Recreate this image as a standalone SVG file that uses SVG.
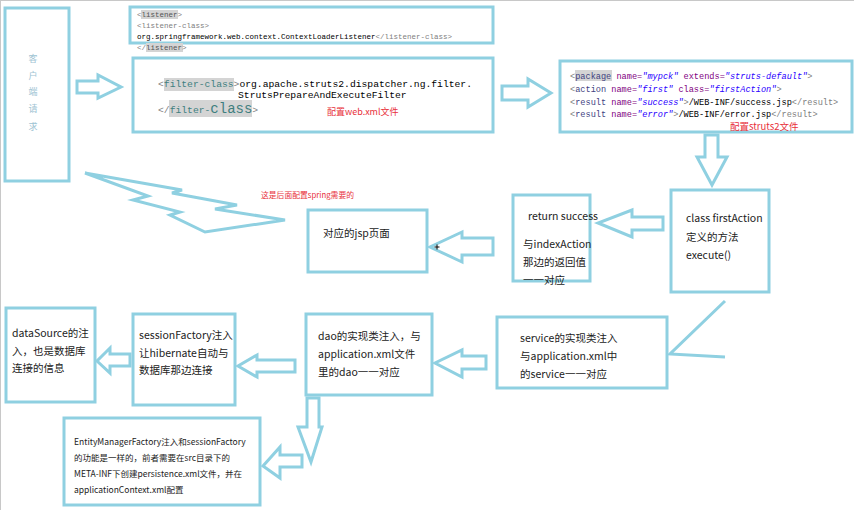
<svg xmlns="http://www.w3.org/2000/svg" width="854" height="510" viewBox="0 0 854 510">
<style>
.box{fill:#fff;stroke:#8fd0e1;stroke-width:3}
.arr{fill:#fff;stroke:#8fd0e1;stroke-width:3;stroke-linejoin:miter}
.ln{fill:none;stroke:#8fd0e1;stroke-width:3}
.t{font-family:"Noto Sans CJK SC","Liberation Sans",sans-serif;font-size:10.5px;fill:#222}
.s{font-size:8.5px}
.red{font-family:"Noto Sans CJK SC","Liberation Sans",sans-serif;fill:#e8303a}
.code{font-family:"Liberation Mono","Noto Sans CJK SC",monospace;fill:#000}
.g{fill:#808080}
.p{fill:#7f007f}
.v{fill:#2a00ff;font-style:italic}
.tag{fill:#3f7f7f}
.hl{fill:#d4d4d4}
.cl{font-family:"Noto Sans CJK SC",sans-serif;font-size:9px;fill:#9ec3d3}
</style>
<rect x="0" y="0" width="854" height="510" fill="#fff"/>
<line x1="0.5" y1="0" x2="0.5" y2="510" stroke="#c8c8c8" stroke-width="1"/>
<line x1="0" y1="0.5" x2="854" y2="0.5" stroke="#c8c8c8" stroke-width="1"/>

<g id="connectors">
  <polygon class="arr" points="77,81 98,81 98,75 121,87 98,98 98,93 77,93"/>
  <polygon class="arr" points="502,86 528,86 528,79 551,93 528,107 528,100 502,100"/>
  <polygon class="arr" points="705,135 718,135 718,157 727,157 712,185 697,157 705,157"/>
  <polygon class="arr" points="663,217 632,217 632,210 598,223 632,237 632,230 663,230"/>
  <polygon class="arr" points="493,238 462,238 462,232 430,247 462,262 462,255 493,255"/>
  <polygon class="arr" points="486,356 462,356 462,350 435,363 462,377 462,369 486,369"/>
  <polygon class="arr" points="295,360 257,360 257,355 238,366 257,377 257,372 295,372"/>
  <polygon class="arr" points="130,354 110,354 110,348 97,361 110,373 110,366 130,366"/>
  <polygon class="arr" points="307,398 319,398 319,427 322,427 311,462 298,427 307,427"/>
  <polygon class="arr" points="302,455 280,455 280,447 263,466 280,478 280,467 302,467"/>
  <polyline class="ln" points="725,301 670,354 725,357"/>
  <polygon class="arr" points="85,173 182,190 172,193 237,205 215,209 285,220 205,232 170,215 180,212 133,200 148,196"/>
  <path d="M434.5,247 h5 M437,244.5 v5" stroke="#000" stroke-width="1"/>
</g>

<g id="client">
  <rect class="box" x="5" y="8" width="64" height="173"/>
  <text class="cl" x="33" y="62" text-anchor="middle">客</text>
  <text class="cl" x="33" y="79" text-anchor="middle">户</text>
  <text class="cl" x="33" y="95" text-anchor="middle">端</text>
  <text class="cl" x="33" y="112" text-anchor="middle">请</text>
  <text class="cl" x="33" y="130" text-anchor="middle">求</text>
</g>

<g id="listener">
  <rect class="box" x="130" y="7" width="363" height="36"/>
  <rect class="hl" x="141" y="10" width="37" height="9"/>
  <rect class="hl" x="146" y="43" width="37" height="9"/>
  <text class="code" x="137" y="17" font-size="7.5"><tspan class="g">&lt;</tspan><tspan fill="#555">listener</tspan><tspan class="g">&gt;</tspan></text>
  <text class="code" x="137" y="28" font-size="7.5"><tspan class="g">&lt;listener-class&gt;</tspan></text>
  <text class="code" x="137" y="39" font-size="7.5">org.springframework.web.context.ContextLoaderListener<tspan class="g">&lt;/listener-class&gt;</tspan></text>
  <text class="code" x="137" y="50" font-size="7.5"><tspan class="g">&lt;/</tspan><tspan fill="#555">listener</tspan><tspan class="g">&gt;</tspan></text>
</g>

<g id="webxml">
  <rect class="box" x="133" y="58" width="360" height="74"/>
  <rect class="hl" x="164" y="78" width="70" height="13"/>
  <rect class="hl" x="169" y="100" width="83" height="17"/>
  <text class="code" x="158" y="87" font-size="9.7"><tspan class="g">&lt;</tspan><tspan class="tag">filter-class</tspan><tspan class="g">&gt;</tspan>org.apache.struts2.dispatcher.ng.filter.</text>
  <text class="code" x="238" y="98" font-size="9.7">StrutsPrepareAndExecuteFilter</text>
  <text class="code" x="158" y="113" font-size="9.7"><tspan class="g">&lt;/</tspan><tspan class="tag">filter-</tspan><tspan class="tag" font-size="14">class</tspan><tspan class="g">&gt;</tspan></text>
  <text class="red" x="327" y="115" font-size="9">配置web.xml文件</text>
</g>

<g id="strutsxml">
  <rect class="box" x="560" y="61" width="292" height="71"/>
  <rect class="hl" x="575" y="70" width="37" height="11"/>
  <text class="code" x="570" y="79" font-size="8.6"><tspan class="g">&lt;</tspan><tspan fill="#3f3f7f">package</tspan> <tspan class="p">name=</tspan><tspan class="v">"mypck"</tspan> <tspan class="p">extends=</tspan><tspan class="v">"struts-default"</tspan><tspan class="g">&gt;</tspan></text>
  <text class="code" x="570" y="92" font-size="8.6"><tspan class="g">&lt;</tspan><tspan fill="#3f3f7f">action</tspan> <tspan class="p">name=</tspan><tspan class="v">"first"</tspan> <tspan class="p">class=</tspan><tspan class="v">"firstAction"</tspan><tspan class="g">&gt;</tspan></text>
  <text class="code" x="570" y="104.5" font-size="8.6"><tspan class="g">&lt;</tspan><tspan fill="#3f3f7f">result</tspan> <tspan class="p">name=</tspan><tspan class="v">"success"</tspan><tspan class="g">&gt;</tspan>/WEB-INF/success.jsp<tspan class="g">&lt;/result&gt;</tspan></text>
  <text class="code" x="570" y="117" font-size="8.6"><tspan class="g">&lt;</tspan><tspan fill="#3f3f7f">result</tspan> <tspan class="p">name=</tspan><tspan class="v">"error"</tspan><tspan class="g">&gt;</tspan>/WEB-INF/error.jsp<tspan class="g">&lt;/result&gt;</tspan></text>
  <text class="red" x="730" y="129.5" font-size="9.5">配置struts2文件</text>
</g>

<text class="red" x="261" y="198" font-size="7.8">这是后面配置spring需要的</text>

<g id="firstAction">
  <rect class="box" x="671" y="190" width="98" height="102"/>
  <text class="t" x="686" y="222">class firstAction</text>
  <text class="t" x="686" y="241">定义的方法</text>
  <text class="t" x="686" y="259">execute()</text>
</g>

<g id="returnSuccess">
  <rect class="box" x="513" y="195" width="77" height="86"/>
  <text class="t" x="528" y="220">return success</text>
  <text class="t" x="523" y="248">与indexAction</text>
  <text class="t" x="523" y="266">那边的返回值</text>
  <text class="t" x="523" y="284">一一对应</text>
</g>

<g id="jsp">
  <rect class="box" x="308" y="210" width="119" height="62"/>
  <text class="t" x="323" y="237">对应的jsp页面</text>
</g>

<g id="service">
  <rect class="box" x="497" y="317" width="170" height="71"/>
  <text class="t" x="520" y="342">service的实现类注入</text>
  <text class="t" x="520" y="360">与application.xml中</text>
  <text class="t" x="520" y="378">的service一一对应</text>
</g>

<g id="dao">
  <rect class="box" x="306" y="314" width="126" height="81"/>
  <text class="t" x="318" y="340">dao的实现类注入，与</text>
  <text class="t" x="318" y="358">application.xml文件</text>
  <text class="t" x="318" y="376">里的dao一一对应</text>
</g>

<g id="sessionFactory">
  <rect class="box" x="133" y="314" width="102" height="91"/>
  <text class="t" x="139" y="339">sessionFactory注入</text>
  <text class="t" x="139" y="357">让hibernate自动与</text>
  <text class="t" x="139" y="374">数据库那边连接</text>
</g>

<g id="dataSource">
  <rect class="box" x="6" y="308" width="89" height="94"/>
  <text class="t" x="12" y="337">dataSource的注</text>
  <text class="t" x="12" y="355">入，也是数据库</text>
  <text class="t" x="12" y="372">连接的信息</text>
</g>

<g id="entityManagerFactory">
  <rect class="box" x="64" y="418" width="196" height="87"/>
  <text class="t s" x="74" y="445">EntityManagerFactory注入和sessionFactory</text>
  <text class="t s" x="74" y="461">的功能是一样的，前者需要在src目录下的</text>
  <text class="t s" x="74" y="477">META-INF下创建persistence.xml文件，并在</text>
  <text class="t s" x="74" y="493">applicationContext.xml配置</text>
</g>
</svg>
